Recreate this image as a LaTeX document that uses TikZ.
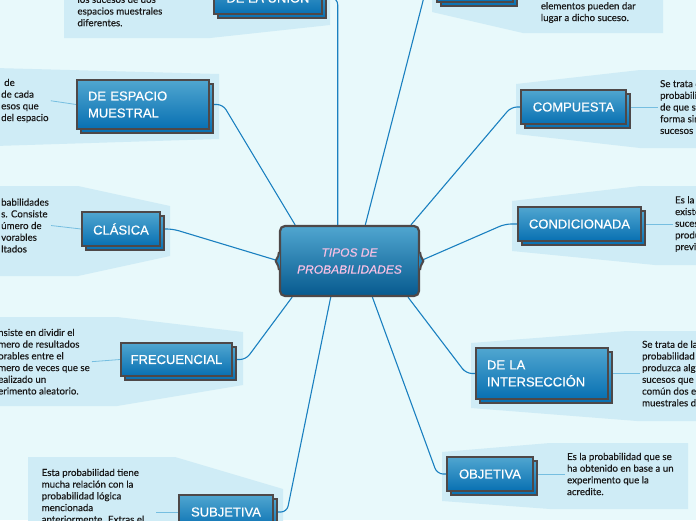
\documentclass[tikz,border=0pt]{standalone}
\usepackage{fontspec}
\setmainfont{Lato}[FakeBold=0.3]
\newfontfamily\boxfont{Liberation Sans}[FakeBold=0.5]
\usetikzlibrary{positioning,calc,backgrounds}
\definecolor{bgc}{RGB}{232,249,251}
\definecolor{pc}{RGB}{207,236,246}
\definecolor{tc}{RGB}{80,166,208}
\definecolor{bc}{RGB}{8,112,178}
\definecolor{ec}{RGB}{78,72,72}
\definecolor{lc}{RGB}{26,128,192}
\definecolor{sc}{RGB}{118,190,224}
\definecolor{pk}{RGB}{246,192,228}
\tikzset{tb/.style={draw=ec,line width=1.8pt,top color=tc,bottom color=bc,text=white,
   font=\boxfont\fontsize{13}{17}\selectfont,minimum height=34pt,inner sep=0pt,
   preaction={draw=ec,line width=1.8pt,top color=tc,bottom color=bc,transform canvas={shift={(4pt,-4pt)}}}},
 tb2/.style={tb,align=left,text width=#1,inner xsep=11pt,minimum height=50pt},
 txt/.style={font=\fontsize{9.7}{11.7}\selectfont,align=left,inner sep=2pt,text=black!90},
 pan/.style={fill=pc},
 conn/.style={draw=lc,line width=1.1pt,rounded corners=6pt},
 lead/.style={draw=sc,line width=.8pt}}
\begin{document}
\begin{tikzpicture}[x=1pt,y=-1pt,node distance=31pt]
\useasboundingbox (0,0) rectangle (696,520);
\clip (0,0) rectangle (696,520);
% centre
\node[draw=ec,line width=2.2pt,rounded corners=5pt,top color=tc,bottom color=bc!80!black,
  minimum width=139pt,minimum height=70pt,align=center,text=pk,
  font=\boxfont\itshape\fontsize{12}{17}\selectfont] (tipos) at (349.5,261) {TIPOS DE\\PROBABILIDADES};
\foreach \s/\d in {west/-4,east/4}{
  \fill[bc!55!tc] ($(tipos.\s)+(-\d/4,-8)$)--($(tipos.\s)+(\d,0)$)--($(tipos.\s)+(-\d/4,8)$)--cycle;
  \draw[ec,line width=2pt,rounded corners=2pt] ($(tipos.\s)+(0,-9)$)--($(tipos.\s)+(\d/4,-3)$)--($(tipos.\s)+(\d,0)$)--($(tipos.\s)+(\d/4,3)$)--($(tipos.\s)+(0,9)$);}
% branches
\node[tb,minimum width=108pt] (union) at (268,-3) {DE LA UNIÓN};
\node[tb,minimum width=76pt] (otra) at (475,-15) {};
\node[tb2=110pt,minimum height=49pt] (esp) at (143,104.5) {DE ESPACIO\\MUESTRAL};
\node[tb,minimum width=78pt] (clasica) at (121,229) {CLÁSICA};
\node[tb,minimum width=111pt,minimum height=33pt] (frec) at (176.5,359.5) {FRECUENCIAL};
\node[tb,minimum width=94pt] (subj) at (226,512) {SUBJETIVA};
\node[tb,minimum width=105pt] (comp) at (573.5,107) {COMPUESTA};
\node[tb,minimum width=123pt] (cond) at (579.5,224) {CONDICIONADA};
\node[tb2=110pt,minimum height=51pt] (inter) at (542,373.5) {DE LA\\INTERSECCIÓN};
\node[tb,minimum width=86pt] (obj) at (490,474) {OBJETIVA};
% texts
\node[txt,anchor=south west] (uniont) at (75.3,28.5) {los sucesos de dos\\espacios muestrales\\diferentes.};
\node[txt,anchor=south west] (otrat) at (538.7,25) {elementos pueden dar\\lugar a dicho suceso.};
\node[txt,anchor=north west] (espt) at (-1,76.6) {\hspace*{3pt}de\\de cada\\esos que\\del espacio};
\node[txt,anchor=north west] (clast) at (-1,196.3) {babilidades\\s. Consiste\\úmero de\\vorables\\ltados};
\node[txt,anchor=north west] (frect) at (-4,326.6) {nsiste en dividir el\\mero de resultados\\orables entre el\\mero de veces que se\\ealizado un\\erimento aleatorio.};
\node[txt,anchor=north west] (subjt) at (39.5,466.6) {Esta probabilidad tiene\\mucha relación con la\\probabilidad lógica\\mencionada\\anteriormente. Extras el};
\node[txt,right=of comp] (compt) {Se trata de\\probabilid\\de que se\\forma sim\\sucesos};
\node[txt,right=of cond] (condt) {Es la\\existe\\suces\\produ\\previa};
\node[txt,right=of inter] (intert) {Se trata de la\\probabilidad\\produzca alg\\sucesos que\\común dos e\\muestrales d};
\node[txt,right=of obj] (objt) {Es la probabilidad que se\\ha obtenido en base a un\\experimento que la\\acredite.};
\begin{scope}[on background layer]
\clip (0,0) rectangle (696,520);
\fill[bgc] (0,0) rectangle (696,520);
\fill[pan] (64,-40)--(330,-40)--(330,25)--(210,38)--(64,38)--cycle;
\fill[pan] (432,-40)--(663,-40)--(663,33)--(523,33)--(432,12)--cycle;
\fill[pan] (-5,68)--(219,74)--(219,139)--(-5,146)--cycle;
\fill[pan] (-5,186)--(78,186)--(170,206)--(170,256)--(78,276)--(-5,276)--cycle;
\fill[pan] (-5,317)--(117,317)--(243,332)--(243,385)--(117,406)--(-5,406)--cycle;
\fill[pan] (28,457)--(175,457)--(283,489)--(283,530)--(28,530)--cycle;
\fill[pan] (516,84)--(640,70)--(700,70)--(700,148)--(640,148)--(516,134)--cycle;
\fill[pan] (512,201)--(640,186)--(700,186)--(700,265)--(655,265)--(512,251)--cycle;
\fill[pan] (471,343)--(627,331)--(700,331)--(700,421)--(637,421)--(471,408)--cycle;
\fill[pan] (442,452)--(550,443)--(688,443)--(688,509)--(550,509)--(442,501)--cycle;
\foreach \a/\b in {comp/compt,cond/condt,inter/intert,obj/objt,espt/esp,clast/clasica,frect/frec}{\draw[lead] (\a.east)--(\b.west);}
\draw[lead] (subj.west)--++(-22,0);
\foreach \n/\f in {otra/.612,comp/.935}{\draw[conn] (\n.west)--++(-9,0)--($(tipos.north west)!\f!(tipos.north east)$);}
\foreach \n/\f in {inter/.914,obj/.662}{\draw[conn] (\n.west)--++(-9,0)--($(tipos.south west)!\f!(tipos.south east)$);}
\foreach \n/\f in {frec/.094,subj/.367}{\draw[conn] (\n.east)--++(13,0)--($(tipos.south west)!\f!(tipos.south east)$);}
\draw[conn] (esp.east)--++(13,0)--($(tipos.north west)!.115!(tipos.north east)$);
\draw[conn] (clasica.east)--++(12,0)--(tipos.west);
\draw[conn] (cond.west)--++(-12,0)--(tipos.east);
\draw[conn,rounded corners=8pt] (union.east) -| ($(tipos.north west)!.417!(tipos.north east)$);
\end{scope}
\end{tikzpicture}
\end{document}
